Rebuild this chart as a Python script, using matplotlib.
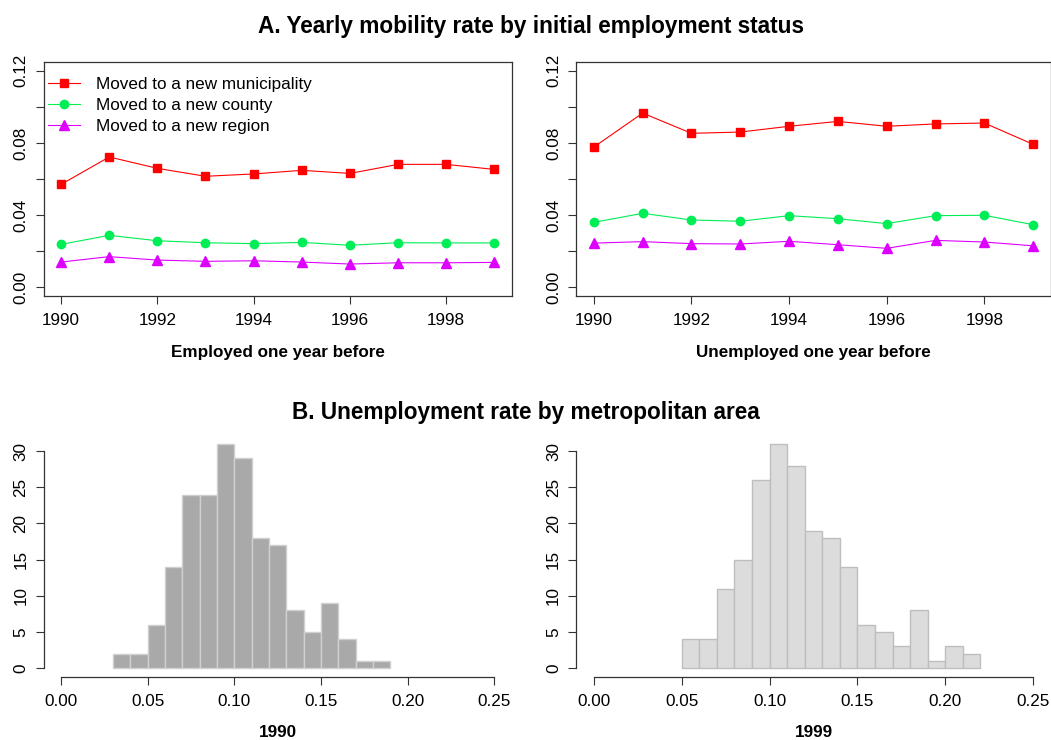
import numpy as np
import matplotlib.pyplot as plt

plt.rcParams['font.family'] = ['Liberation Sans', 'DejaVu Sans']
plt.rcParams['font.size'] = 12.3

# ---- yearly mobility rates (panel A) ----
years = np.arange(1990, 2000)

emp_municipality = [0.0570, 0.0722, 0.0659, 0.0615, 0.0628, 0.0648, 0.0631, 0.0681, 0.0681, 0.0653]
emp_county = [0.0238, 0.0288, 0.0258, 0.0247, 0.0242, 0.0249, 0.0233, 0.0247, 0.0246, 0.0246]
emp_region = [0.0140, 0.0170, 0.0151, 0.0144, 0.0147, 0.0140, 0.0129, 0.0136, 0.0136, 0.0138]

unemp_municipality = [0.0777, 0.0965, 0.0853, 0.0860, 0.0892, 0.0919, 0.0892, 0.0905, 0.0910, 0.0792]
unemp_county = [0.0360, 0.0410, 0.0373, 0.0366, 0.0397, 0.0380, 0.0353, 0.0397, 0.0399, 0.0347]
unemp_region = [0.0245, 0.0253, 0.0242, 0.0240, 0.0255, 0.0236, 0.0216, 0.0260, 0.0251, 0.0230]

series_labels = ['Moved to a new municipality', 'Moved to a new county', 'Moved to a new region']

# ---- unemployment rate histograms (panel B) ----
bin_width = 0.01
start_1990 = 0.03
counts_1990 = [2, 2, 6, 14, 24, 24, 31, 29, 18, 17, 8, 5, 9, 4, 1, 1]
start_1999 = 0.05
counts_1999 = [4, 4, 11, 15, 26, 31, 28, 19, 18, 14, 6, 5, 3, 8, 1, 3, 2]

W, H = 1051, 740
fig = plt.figure(figsize=(W / 100, H / 100), dpi=100)


def px_axes(x0, y0, x1, y1):
    return fig.add_axes([x0 / W, 1 - y1 / H, (x1 - x0) / W, (y1 - y0) / H])


def style_ticks(ax):
    ax.tick_params(direction='out', length=5.5, width=0.8, color='#333333')
    ax.tick_params(axis='x', pad=7)
    ax.tick_params(axis='y', pad=5.5)
    for lab in ax.get_yticklabels():
        lab.set_rotation(90)
        lab.set_va('center')


def mobility_panel(ax, muni, county, region, xlabel, legend=False):
    l1, = ax.plot(years, muni, color='#FF0000', lw=0.8, marker='s', ms=6, mec='#FF0000')
    l2, = ax.plot(years, county, color='#00EE55', lw=0.8, marker='o', ms=6, mec='#00EE55')
    l3, = ax.plot(years, region, color='#DD00FF', lw=0.8, marker='^', ms=7, mec='#DD00FF')
    ax.set_xlim(1989.64, 1999.36)
    ax.set_ylim(-0.0048, 0.1248)
    ax.set_xticks(np.arange(1990, 2000, 2))
    ax.set_yticks(np.arange(0, 0.121, 0.02))
    ax.set_yticklabels(['0.00', '', '0.04', '', '0.08', '', '0.12'])
    ax.set_xlabel(xlabel, fontweight='bold', labelpad=12)
    for s in ax.spines.values():
        s.set_linewidth(0.9)
        s.set_color('#333333')
    style_ticks(ax)
    if legend:
        ax.legend([l1, l2, l3], series_labels, loc='upper left', frameon=False,
                  bbox_to_anchor=(-0.0135, 0.9815), handlelength=1.87, handletextpad=0.94,
                  labelspacing=0.37, borderaxespad=0.2)


def hist_panel(ax, start, counts, fill, edge, xlabel):
    lefts = start + bin_width * np.arange(len(counts))
    ax.bar(lefts, counts, width=bin_width, align='edge', color=fill, edgecolor=edge, linewidth=1.0)
    ax.set_xlim(-0.01, 0.26)
    ax.set_ylim(-1.24, 32.24)
    ax.set_xticks(np.arange(0, 0.251, 0.05))
    ax.set_xticklabels(['0.00', '0.05', '0.10', '0.15', '0.20', '0.25'])
    ax.set_yticks(np.arange(0, 31, 5))
    ax.spines['top'].set_visible(False)
    ax.spines['right'].set_visible(False)
    ax.spines['bottom'].set_bounds(0, 0.25)
    ax.spines['left'].set_bounds(0, 30)
    for s in ('bottom', 'left'):
        ax.spines[s].set_linewidth(0.9)
        ax.spines[s].set_color('#333333')
    ax.set_xlabel(xlabel, fontweight='bold', labelpad=11)
    style_ticks(ax)


ax1 = px_axes(43.7, 62, 511.7, 296)
mobility_panel(ax1, emp_municipality, emp_county, emp_region, 'Employed one year before', legend=True)

ax2 = px_axes(576.3, 62, 1050.7, 296)
mobility_panel(ax2, unemp_municipality, unemp_county, unemp_region, 'Unemployed one year before')

ax3 = px_axes(43.7, 435, 511.7, 677)
hist_panel(ax3, start_1990, counts_1990, '#A9A9A9', '#D0D0D0', '1990')

ax4 = px_axes(576.3, 435, 1050.7, 677)
hist_panel(ax4, start_1999, counts_1999, '#DCDCDC', '#BEBEBE', '1999')

fig.text(531 / W, 1 - 27 / H, 'A. Yearly mobility rate by initial employment status',
         ha='center', va='center', fontsize=16.3, fontweight='bold')
fig.text(526 / W, 1 - 412 / H, 'B. Unemployment rate by metropolitan area',
         ha='center', va='center', fontsize=16.3, fontweight='bold')

fig.savefig('out.png', dpi=100, facecolor='white')
